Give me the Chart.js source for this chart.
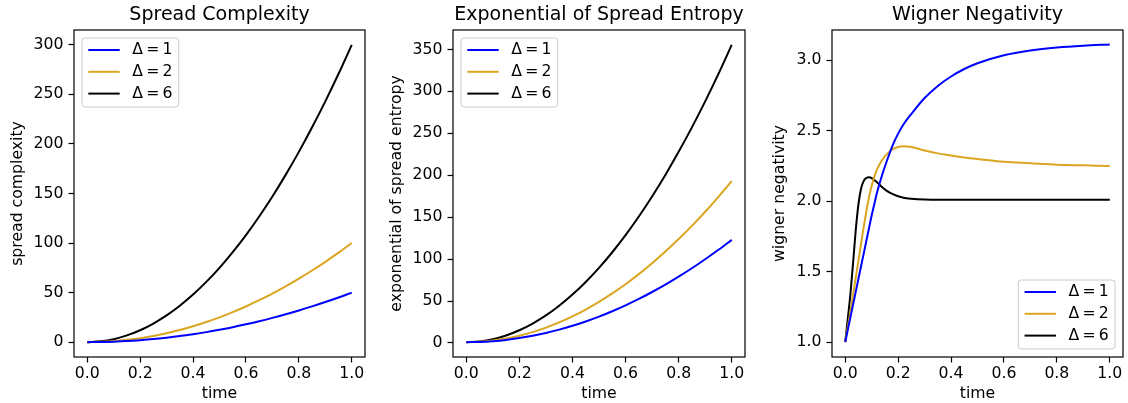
<!DOCTYPE html>
<html>
<head>
<meta charset="utf-8">
<script src="https://cdn.jsdelivr.net/npm/chart.js@4.4.0/dist/chart.umd.min.js"></script>
<style>
html,body{margin:0;padding:0;background:#fff;}
#wrap{position:relative;width:1128px;height:403px;overflow:hidden;}
#wrap canvas{position:absolute;top:0;}
</style>
</head>
<body>
<div id="wrap">
  <canvas id="c-spread" width="376" height="403" style="left:0"></canvas>
  <canvas id="c-entropy" width="376" height="403" style="left:376px"></canvas>
  <canvas id="c-wigner" width="376" height="403" style="left:752px"></canvas>
</div>
<script>
// --- data ---
const labels=['Δ\u2009=\u20091','Δ\u2009=\u20092','Δ\u2009=\u20096'];
const colors=['#0000ff','#daa520','#000000'];

const tGrid=[0,0.05,0.1,0.15,0.2,0.25,0.3,0.35,0.4,0.45,0.5,0.55,0.6,0.65,0.7,0.75,0.8,0.85,0.9,0.95,1];
const spread1=[0,0.1,0.5,1.1,2.0,3.1,4.5,6.1,8.0,10.1,12.5,15.1,18.0,21.1,24.5,28.1,32.0,36.1,40.5,45.1,50.0];
const spread2=[0,0.3,1,2.3,4,6.3,9,12.3,16,20.3,25,30.3,36,42.3,49,56.3,64,72.3,81,90.3,100];
const spread6=[0,0.8,3,6.8,12,18.8,27,36.8,48,60.8,75,90.8,108,126.8,147,168.8,192,216.8,243,270.8,300];

const entropy1=[1,1.3,2.2,3.7,5.9,8.6,12.0,15.9,20.5,25.7,31.5,37.9,44.9,52.5,60.8,69.6,79.1,89.1,99.8,111.1,123];
const entropy2=[1,1.5,2.9,5.3,8.7,13,18.3,24.5,31.7,39.9,49,59.1,70.1,82.1,95.1,109,123.9,139.7,156.5,174.3,193];
const entropy6=[1,1.9,4.5,9,15.2,23.2,32.9,44.4,57.7,72.8,89.6,108.2,128.6,150.8,174.7,200.4,227.9,257.1,288.1,320.9,355.5];

const tWig=[0,0.01,0.02,0.03,0.04,0.05,0.06,0.07,0.08,0.09,0.1,0.11,0.12,0.14,0.16,0.18,0.2,0.22,0.25,0.3,0.35,0.4,0.45,0.5,0.6,0.7,0.8,0.9,1];
const wig1=[1,1.09,1.18,1.27,1.36,1.45,1.54,1.63,1.72,1.81,1.90,1.98,2.06,2.19,2.30,2.40,2.48,2.545,2.62,2.733,2.819,2.886,2.939,2.98,3.037,3.071,3.092,3.105,3.113];
const wig2=[1,1.11,1.22,1.34,1.46,1.58,1.70,1.82,1.93,2.03,2.11,2.175,2.225,2.295,2.34,2.37,2.385,2.39,2.385,2.36,2.34,2.325,2.31,2.30,2.28,2.27,2.26,2.255,2.25];
const wig6=[1,1.17,1.35,1.57,1.80,1.98,2.09,2.145,2.165,2.17,2.165,2.15,2.135,2.10,2.07,2.05,2.035,2.025,2.018,2.012,2.01,2.01,2.01,2.01,2.01,2.01,2.01,2.01,2.01];

const xTicks=[0,0.2,0.4,0.6,0.8,1.0];
const spreadTicks=[0,50,100,150,200,250,300];
const entropyTicks=[0,50,100,150,200,250,300,350];
const wigTicks=[1.0,1.5,2.0,2.5,3.0];

const FONT="'DejaVu Sans', sans-serif";
const FS=15.7;
Chart.defaults.font.family=FONT;
Chart.defaults.color='#000';

// axes frame drawn on top of the lines, like matplotlib spines
const frame={id:'frame',afterDatasetsDraw(chart){
  const {ctx,chartArea:a}=chart;
  ctx.save();ctx.strokeStyle='#000';ctx.lineWidth=1.2;
  ctx.strokeRect(a.left,a.top,a.right-a.left,a.bottom-a.top);
  ctx.restore();
}};

// matplotlib-style legend box
const mplLegend={id:'mplLegend',afterDraw(chart,args,opts){
  const {ctx,chartArea:a}=chart;const ds=chart.data.datasets;
  ctx.save();ctx.font=`${FS}px ${FONT}`;
  const tw=Math.max(...ds.map(d=>ctx.measureText(d.label).width));
  const pad=6.3,hl=31.4,gap=12.6,row=21.8;
  const w=pad+hl+gap+tw+pad,h=69;
  const x=opts.pos==='lr'?a.right-8-w:a.left+8;
  const y=opts.pos==='lr'?a.bottom-8-h:a.top+8;
  ctx.beginPath();ctx.roundRect(x,y,w,h,3);
  ctx.fillStyle='rgba(255,255,255,0.8)';ctx.fill();
  ctx.strokeStyle='#cccccc';ctx.lineWidth=1;ctx.stroke();
  ds.forEach((d,i)=>{
    const ry=y+12+i*row;
    ctx.strokeStyle=d.borderColor;ctx.lineWidth=2;
    ctx.beginPath();ctx.moveTo(x+pad,ry);ctx.lineTo(x+pad+hl,ry);ctx.stroke();
    ctx.fillStyle='#000';ctx.textAlign='left';ctx.textBaseline='middle';
    ctx.fillText(d.label,x+pad+hl+gap,ry);
  });
  ctx.restore();
}};

function panel(id,o){
  return new Chart(document.getElementById(id),{
    type:'line',
    data:{datasets:o.series.map((vals,k)=>({
      label:labels[k],
      data:o.xs.map((x,i)=>({x,y:vals[i]})),
      borderColor:colors[k],borderWidth:2,pointRadius:0,fill:false,
      cubicInterpolationMode:'monotone'
    }))},
    options:{
      responsive:false,animation:false,
      layout:{padding:{left:0,right:o.padR,top:0,bottom:0}},
      plugins:{
        legend:{display:false},tooltip:{enabled:false},
        title:{display:true,text:o.title,fullSize:false,color:'#000',
          font:{size:19,weight:'normal'},padding:{top:4,bottom:3.2}},
        mplLegend:{pos:o.legendPos}
      },
      scales:{
        x:{type:'linear',min:-0.05,max:1.05,
          afterBuildTicks:s=>{s.ticks=xTicks.map(v=>({value:v}))},
          ticks:{callback:v=>v.toFixed(1),font:{size:FS},padding:2,maxRotation:0,autoSkip:false},
          grid:{drawOnChartArea:false,tickLength:5.5,tickColor:'#000',tickWidth:1.2},
          border:{display:false},
          title:{display:true,text:'time',font:{size:FS},padding:0},
          afterFit:s=>{s.height=46;s.paddingLeft=0;s.paddingRight=0}
        },
        y:{type:'linear',min:o.yMin,max:o.yMax,
          afterBuildTicks:s=>{s.ticks=o.yTicks.map(v=>({value:v}))},
          ticks:{callback:o.yFmt,font:{size:FS},padding:5,autoSkip:false},
          grid:{drawOnChartArea:false,tickLength:5.5,tickColor:'#000',tickWidth:1.2},
          border:{display:false},
          title:{display:true,text:o.yLabel,font:{size:FS},padding:{top:o.yTitlePad,bottom:0}},
          afterFit:s=>{s.width=o.axisW;s.paddingTop=0;s.paddingBottom=0}
        }
      }
    },
    plugins:[frame,mplLegend]
  });
}

panel('c-spread',{title:'Spread Complexity',yLabel:'spread complexity',
  xs:tGrid,series:[spread1,spread2,spread6],
  yMin:-15,yMax:315,yTicks:spreadTicks,yFmt:v=>String(v),
  axisW:74,padR:11,yTitlePad:8.6,legendPos:'ul'});

panel('c-entropy',{title:'Exponential of Spread Entropy',yLabel:'exponential of spread entropy',
  xs:tGrid,series:[entropy1,entropy2,entropy6],
  yMin:-16.7,yMax:373.2,yTicks:entropyTicks,yFmt:v=>String(v),
  axisW:77,padR:7,yTitlePad:11.3,legendPos:'ul'});

panel('c-wigner',{title:'Wigner Negativity',yLabel:'wigner negativity',
  xs:tWig,series:[wig1,wig2,wig6],
  yMin:0.894,yMax:3.216,yTicks:wigTicks,yFmt:v=>v.toFixed(1),
  axisW:80,padR:5,yTitlePad:18.9,legendPos:'lr'});
</script>
</body>
</html>
